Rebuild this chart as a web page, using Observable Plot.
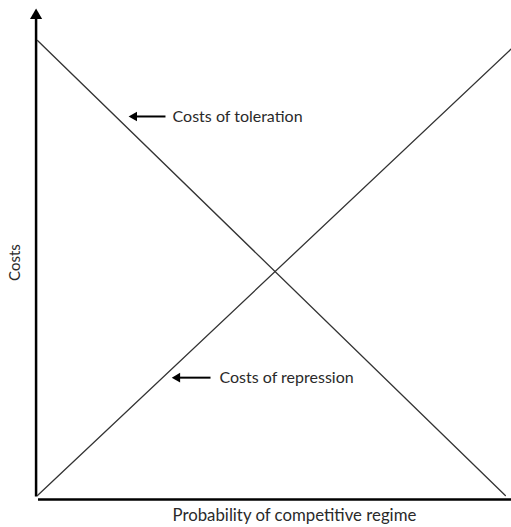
<!DOCTYPE html>
<html><head><meta charset="utf-8">
<script src="https://cdn.jsdelivr.net/npm/d3@7"></script>
<script src="https://cdn.jsdelivr.net/npm/@observablehq/plot@0.6"></script>
<style>body{margin:0;background:#fff;font-family:Lato,sans-serif}</style>
</head><body><div id="chart"></div>
<script>
// Probability of competitive regime (x) and costs (y)
const toleration = [{x: 0, y: 1}, {x: 0.987, y: 0}];
const repression = [{x: 0, y: 0}, {x: 1, y: 0.982}];
const labels = [
  {name: "Costs of toleration", x: 0.285, y: 0.833, tail: 0.27, tip: 0.196},
  {name: "Costs of repression", x: 0.384, y: 0.259, tail: 0.365, tip: 0.287}
];
const xTitle = "Probability of competitive regime";
const yTitle = "Costs";

const chart = Plot.plot({
  width: 511, height: 527,
  marginLeft: 37, marginRight: 0, marginTop: 40, marginBottom: 32,
  x: {domain: [0, 1], axis: null},
  y: {domain: [0, 1], axis: null},
  style: {fontFamily: "Lato, sans-serif", background: "white"},
  marks: [
    // axes
    Plot.link([{x1: -0.003, y1: -0.002, x2: -0.003, y2: 1.05}], {x1: "x1", y1: "y1", x2: "x2", y2: "y2", stroke: "black", strokeWidth: 2.5}),
    Plot.dot([{x: -0.003, y: 1.055}], {x: "x", y: "y", symbol: "triangle", r: 4.5, fill: "black", stroke: null}),
    Plot.link([{x1: 0.001, y1: -0.009, x2: 1.01, y2: -0.009}], {x1: "x1", y1: "y1", x2: "x2", y2: "y2", stroke: "black", strokeWidth: 2.5}),
    // curves
    Plot.line(toleration, {x: "x", y: "y", stroke: "#333", strokeWidth: 1.3}),
    Plot.line(repression, {x: "x", y: "y", stroke: "#333", strokeWidth: 1.3}),
    // annotation arrows
    Plot.link(labels, {x1: "tail", x2: d => d.tip + 0.012, y1: "y", y2: "y", stroke: "black", strokeWidth: 2}),
    Plot.dot(labels, {x: d => d.tip + 0.008, y: "y", symbol: "triangle", r: 3.6, rotate: -90, fill: "black", stroke: null}),
    Plot.text(labels, {x: "x", y: "y", text: "name", textAnchor: "start", fontSize: 16, fill: "#2a2a2a"}),
    // titles
    Plot.text([xTitle], {x: 0.542, frameAnchor: "bottom", dy: 25, text: d => d, fontSize: 16.8, fill: "#2a2a2a"}),
    Plot.text([yTitle], {x: -0.048, y: 0.512, text: d => d, rotate: -90, fontSize: 15, fill: "#2a2a2a"})
  ]
});
document.getElementById("chart").append(chart);
</script></body></html>
